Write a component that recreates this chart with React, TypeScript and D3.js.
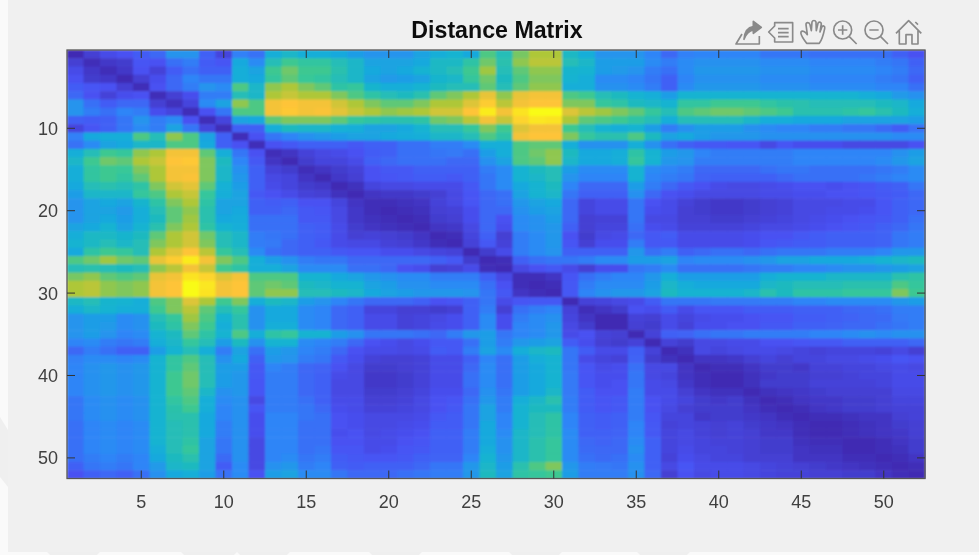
import React from "react";
import * as d3 from "d3";

const WIDTH = 979;
const HEIGHT = 555;
const margin = { left: 67, right: 925, top: 50, bottom: 478.5 };

const title = "Distance Matrix";
const xTickValues = [5, 10, 15, 20, 25, 30, 35, 40, 45, 50];
const yTickValues = [10, 20, 30, 40, 50];

// parula stops
const parula = ["#3e26a8", "#4852f4", "#2d87f7", "#12b1d6", "#37c897", "#abc739", "#fec338", "#f9fb14"];

// upper triangle of the distance matrix, row i runs from column i to column 52
const upperRows: number[][] = [
  [2,8,12,14,17,20,33,33,18,10, 27,23,42,46,42,42,40,36,33,33, 33,38,42,44,40,60,50,65,72,72, 47,42,33,33,33,28,20,27,28,28, 28,28,24,24,24,22,22,22,22,22,18,14],
  [3,6,7,15,14,22,26,17,15, 40,30,50,58,55,55,50,46,38,38, 38,40,47,47,54,64,52,68,74,74, 50,46,36,36,36,30,26,30,32,32, 32,32,30,30,30,28,28,28,28,26,24,18],
  [3,6,14,9,17,22,18,18, 42,38,58,64,58,58,52,46,40,38, 40,44,47,50,58,70,50,62,68,68, 45,44,36,35,33,26,22,30,34,34, 34,34,32,32,32,30,30,30,30,28,26,20],
  [2,8,13,20,28,24,24, 42,40,56,62,57,55,50,46,38,35, 36,38,45,46,56,64,48,60,66,66, 44,42,30,30,28,24,18,28,32,32, 32,32,30,30,30,28,28,28,28,26,24,18],
  [3,14,20,26,33,30, 60,46,68,72,66,62,54,56,45,42, 42,44,48,50,50,62,50,62,68,68, 42,42,32,32,30,26,18,30,34,34, 34,34,32,32,32,30,30,30,30,28,28,22],
  [3,8,13,26,26, 50,46,72,76,72,72,66,60,54,50, 48,52,62,66,72,82,68,82,84,84, 60,58,50,48,44,42,36,44,44,44, 44,44,44,44,44,44,44,44,42,40,35,32],
  [4,10,30,38, 68,60,84,86,84,84,78,72,66,62, 62,66,72,72,80,88,74,84,86,86, 66,66,56,54,48,46,44,55,55,58, 58,58,55,53,52,50,50,50,50,48,46,40],
  [3,14,24, 60,60,84,87,84,85,81,76,72,68, 70,72,78,78,86,96,84,94,100,100, 80,74,70,66,62,56,50,60,62,64, 64,62,60,58,52,52,52,54,56,52,48,42],
  [3,10, 38,40,62,66,66,66,62,56,54,52, 52,54,64,66,74,84,76,90,95,94, 72,62,60,58,54,50,42,50,50,50, 50,46,42,42,40,40,40,38,38,38,38,36],
  [3, 18,18,42,48,46,46,43,42,38,38, 40,44,50,50,56,66,58,80,84,84, 58,50,44,42,44,36,26,32,36,36, 36,32,30,28,28,26,26,24,24,21,17,23],
  [3,14,24,28,32,34,36,38,38,40, 41,42,46,46,50,60,54,84,86,86, 66,56,52,52,60,48,38,40,36,34, 34,34,32,32,32,32,32,32,32,32,30,30],
  [3,14,16,18,18,18,16,18,18, 22,22,26,26,30,42,42,60,62,62, 42,32,32,32,42,32,22,18,16,16, 15,15,11,15,13,13,13,11,11,11,11,14],
  [3,5,9,11,12,14,17,18, 22,22,24,25,22,36,42,60,64,68, 48,40,40,42,54,44,36,34,28,26, 26,26,26,26,28,28,28,28,28,28,32,36],
  [2,7,10,10,12,18,20, 22,22,22,20,20,32,38,60,62,68, 46,40,40,42,56,44,34,33,26,26, 26,26,26,26,28,28,28,28,28,30,34,38],
  [3,5,7,9,14,16, 16,18,18,18,18,26,30,44,48,50, 36,30,30,30,44,30,28,26,20,20, 20,20,22,24,24,22,22,22,22,24,26,30],
  [2,6,8,14,15, 16,17,17,16,18,24,30,44,46,50, 33,28,28,28,44,28,26,24,19,18, 18,18,18,20,22,22,22,22,24,26,28,30],
  [2,4,10,11, 11,12,12,12,16,24,30,40,44,48, 28,20,20,20,36,26,20,16,14,12, 11,11,12,13,14,14,13,14,15,17,18,24],
  [2,5,6, 6,7,8,11,15,20,22,38,44,46, 24,18,18,18,32,20,14,13,11,11, 11,11,12,12,13,13,14,14,15,16,17,20],
  [3,3, 4,5,9,11,15,20,22,34,38,40, 20,10,12,12,24,14,12,9,7,6, 6,7,8,9,11,11,11,12,12,15,18,20],
  [2, 3,4,8,9,13,20,20,32,36,38, 20,10,12,12,24,13,12,8,7,6, 6,7,8,9,11,11,12,12,13,15,18,20],
  [2,3,7,8,13,20,14,30,32,36, 20,8,9,9,24,11,11,8,8,7, 7,8,9,10,11,12,13,14,15,16,18,22],
  [2,5,6,11,20,13,30,32,34, 18,8,10,10,22,13,12,9,9,9, 9,10,11,11,12,13,14,15,16,18,20,24],
  [2,3,10,18,8,26,30,34, 14,7,11,12,20,16,17,12,12,12, 12,13,14,14,16,17,18,18,18,19,24,26],
  [2,9,16,9,26,30,34, 15,8,13,13,26,16,16,12,12,12, 12,13,15,16,17,17,18,18,18,19,24,26],
  [2,7,12,26,30,33, 18,18,18,18,34,22,26,18,20,22, 22,20,22,24,24,24,26,26,26,28,34,34],
  [2,3,18,22,24, 24,26,30,30,36,36,38,28,30,30, 30,32,34,38,38,40,40,40,42,44,46,48],
  [2,11,14,16, 12,8,13,13,24,26,30,22,22,22, 22,24,26,26,28,28,30,32,32,34,36,38],
  [3,3,5, 15,22,26,28,28,34,42,36,36,36, 36,36,42,44,44,44,46,46,46,46,52,54],
  [2,3, 16,26,30,30,30,36,46,42,40,40, 40,40,46,48,50,50,50,52,52,52,60,56],
  [2, 16,28,32,34,34,38,48,44,44,44, 44,46,52,48,54,54,54,56,56,56,66,58],
  [2,9,10,11,12,17,24,24,24,25, 25,25,26,26,28,28,30,30,30,30,34,36],
  [3,5,7,14,13,17,12,15,15, 15,17,17,17,18,18,18,20,21,22,26,26],
  [2,2,9,8,12,10,12,13, 13,14,15,15,17,17,18,19,20,21,25,26],
  [2,8,7,12,9,13,13, 14,14,16,16,18,18,19,20,20,22,24,26],
  [2,9,18,19,22,24, 24,26,26,26,26,28,28,30,32,30,32,32],
  [2,9,7,11,11, 12,12,14,14,15,16,16,18,18,18,18,20],
  [2,4,11,10, 11,12,12,11,10,9,10,10,10,9,11,8],
  [2,5,5, 6,8,10,8,10,10,11,11,12,13,15,14],
  [2,3, 3,5,7,7,6,9,9,10,10,11,12,11],
  [2, 2,4,6,7,7,8,8,9,10,10,12,12],
  [2,4,7,7,7,9,9,9,9,10,12,12],
  [2,4,5,6,7,8,8,8,8,11,11],
  [2,3,5,6,6,7,7,8,10,10],
  [2,3,5,6,7,7,8,9,9],
  [2,3,3,4,5,5,8,9],
  [2,2,3,4,5,7,8],
  [2,3,4,5,6,8],
  [2,2,3,5,7],
  [2,3,4,7],
  [2,3,5],
  [2,3],
  [2],
];

// faint watermark pieces along the bottom edge of the screenshot
const bottomPatches = [[47, 100], [181, 237], [237, 290], [369, 422], [509, 562], [637, 690]];

export default function App() {
  const n = upperRows.length;
  const x = d3.scaleLinear().domain([0.5, n + 0.5]).range([margin.left, margin.right]);
  const y = d3.scaleLinear().domain([0.5, n + 0.5]).range([margin.top, margin.bottom]);
  const color = d3
    .scaleLinear<string>()
    .domain(parula.map((_, i) => (i / (parula.length - 1)) * 100))
    .range(parula)
    .interpolate(d3.interpolateRgb);

  const cells: { row: number; col: number; value: number }[] = [];
  upperRows.forEach((values, i) => {
    values.forEach((value, k) => {
      const col = i + k;
      cells.push({ row: i + 1, col: col + 1, value });
      if (col !== i) cells.push({ row: col + 1, col: i + 1, value });
    });
  });

  const tickColor = "#333333";
  const labelColor = "#404040";
  const iconColor = "#8a8a8a";

  return (
    <svg
      width={WIDTH}
      height={HEIGHT}
      style={{ position: "absolute", left: 0, top: 0, display: "block" }}
      fontFamily="'Liberation Sans', Arial, sans-serif"
    >
      <defs>
        <filter id="soft" x="0" y="0" width="100%" height="100%">
          <feGaussianBlur stdDeviation="0.8" edgeMode="duplicate" />
        </filter>
        <filter id="softText" x="-10%" y="-10%" width="120%" height="120%">
          <feGaussianBlur stdDeviation="0.45" />
        </filter>
      </defs>
      <rect width={WIDTH} height={HEIGHT} fill="#fafafa" />
      <rect x={8} width={WIDTH - 8} height={552} fill="#f0f0f0" />
      <path d="M0,417 L8,430 L8,487 L0,477 Z" fill="#efefef" />
      {bottomPatches.map(([a, b]) => (
        <path key={a} d={`M${a},552 L${b},552 L${b - 3},555 L${a + 3},555 Z`} fill="#efefef" />
      ))}

      <g filter="url(#soft)">
        {cells.map((d) => (
          <rect
            key={`${d.row}-${d.col}`}
            x={x(d.col - 0.5)}
            y={y(d.row - 0.5)}
            width={x(d.col + 0.5) - x(d.col - 0.5) + 0.5}
            height={y(d.row + 0.5) - y(d.row - 0.5) + 0.5}
            fill={color(d.value)}
          />
        ))}
      </g>

      <rect
        x={margin.left}
        y={margin.top}
        width={margin.right - margin.left}
        height={margin.bottom - margin.top}
        fill="none"
        stroke="#555555"
        strokeWidth={1.3}
      />

      {xTickValues.map((t) => (
        <g key={t} transform={`translate(${x(t)},0)`}>
          <line y1={margin.top} y2={margin.top + 8} stroke={tickColor} />
          <line y1={margin.bottom} y2={margin.bottom - 8} stroke={tickColor} />
          <text y={508} textAnchor="middle" fontSize={18} fill={labelColor} filter="url(#softText)">
            {t}
          </text>
        </g>
      ))}
      {yTickValues.map((t) => (
        <g key={t} transform={`translate(0,${y(t)})`}>
          <line x1={margin.left} x2={margin.left + 8} stroke={tickColor} />
          <line x1={margin.right} x2={margin.right - 8} stroke={tickColor} />
          <text x={58} y={6.5} textAnchor="end" fontSize={18} fill={labelColor} filter="url(#softText)">
            {t}
          </text>
        </g>
      ))}

      <text x={497} y={38} textAnchor="middle" fontSize={23.2} fontWeight="bold" fill="#111111" filter="url(#softText)">
        {title}
      </text>

      {/* figure toolbar */}
      <g
        transform="translate(720,10) scale(0.3333)"
        fill="none"
        stroke={iconColor}
        strokeWidth={5}
        strokeLinejoin="round"
        filter="url(#softText)"
      >
        {/* export */}
        <path d="M66,72 L48,102 L118,102 L118,78" />
        <path d="M72,88 C74,62 86,52 100,50 L100,34 L124,52 L100,70 L100,60 C88,62 78,72 72,88 Z" fill={iconColor} />
        {/* brush */}
        <path d="M146,66 L164,48 L164,38 L218,38 L218,96 L164,96 L164,84 Z" />
        <path d="M174,56 L206,56 M174,68 L206,68 M174,80 L206,80" />
        {/* hand */}
        <path d="M260,100 C250,85 240,75 243,66 C247,60 256,66 262,74 L258,44 C258,36 268,36 270,44 L274,62 L276,36 C278,30 286,30 288,36 L289,62 L294,40 C296,34 304,36 304,42 L300,66 L306,50 C310,46 316,48 314,56 C310,76 306,90 298,100 Z" />
        {/* zoom in */}
        <circle cx={368} cy={60} r={27} />
        <path d="M388,80 L410,102 M368,46 L368,74 M354,60 L382,60" />
        {/* zoom out */}
        <circle cx={462} cy={60} r={27} />
        <path d="M482,80 L504,102 M448,60 L476,60" />
        {/* home */}
        <path d="M528,70 L566,32 L604,70 M538,62 L538,102 L558,102 L558,74 L576,74 L576,102 L594,102 L594,62 M586,36 L594,44" />
      </g>
    </svg>
  );
}
